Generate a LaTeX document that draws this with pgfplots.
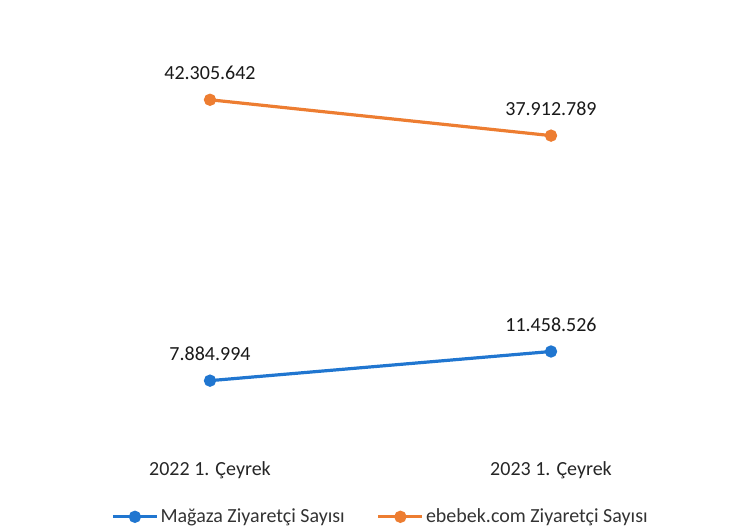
\documentclass[border=0pt]{standalone}
\usepackage{pgfplots}
\pgfplotsset{compat=1.18}
\usepackage{fontspec}
\setmainfont{Carlito}
\definecolor{cblue}{RGB}{32,118,208}
\definecolor{corange}{RGB}{237,125,49}
\newcommand\f{\fontsize{20bp}{24bp}\selectfont}
\begin{document}
\begin{tikzpicture}[x=1bp,y=1bp]
\path[use as bounding box] (0,0) rectangle (739,531);
\begin{axis}[
  at={(39.5bp,86bp)}, anchor=south west,
  scale only axis, width=682bp, height=408bp,
  xmin=-0.5, xmax=1.5, ymin=0, ymax=50,
  clip=false,
  hide y axis,
  axis x line*=bottom,
  x axis line style={draw=none},
  major tick length=0pt,
  xtick={0,1}, xticklabels={2022 1. Çeyrek,2023 1. Çeyrek},
  xticklabel style={font=\f, text=black!85, anchor=center, yshift=-25bp},
  point meta=explicit symbolic,
  nodes near coords,
  every node near coord/.append style={font=\f, text=black!90, anchor=center, yshift=27bp},
  legend columns=2,
  legend style={draw=none, fill=none, at={(0.5,-0.176)}, anchor=center, font=\f, text=black!80,
    /tikz/every even column/.append style={column sep=30bp}},
  legend image code/.code={\draw[#1,mark repeat=2,mark phase=2] plot coordinates {(0bp,0bp)(22bp,0bp)(44bp,0bp)};},
]
\addplot[cblue, line width=3.2bp, mark=*, mark size=4.5bp, mark options={fill=cblue,draw=cblue}]
  coordinates {(0,7.884994)[7.884.994] (1,11.458526)[11.458.526]};
\addlegendentry{Mağaza Ziyaretçi Sayısı}
\addplot[corange, line width=3.2bp, mark=*, mark size=4.5bp, mark options={fill=corange,draw=corange}]
  coordinates {(0,42.305642)[42.305.642] (1,37.912789)[37.912.789]};
\addlegendentry{ebebek.com Ziyaretçi Sayısı}
\end{axis}
\end{tikzpicture}
\end{document}
